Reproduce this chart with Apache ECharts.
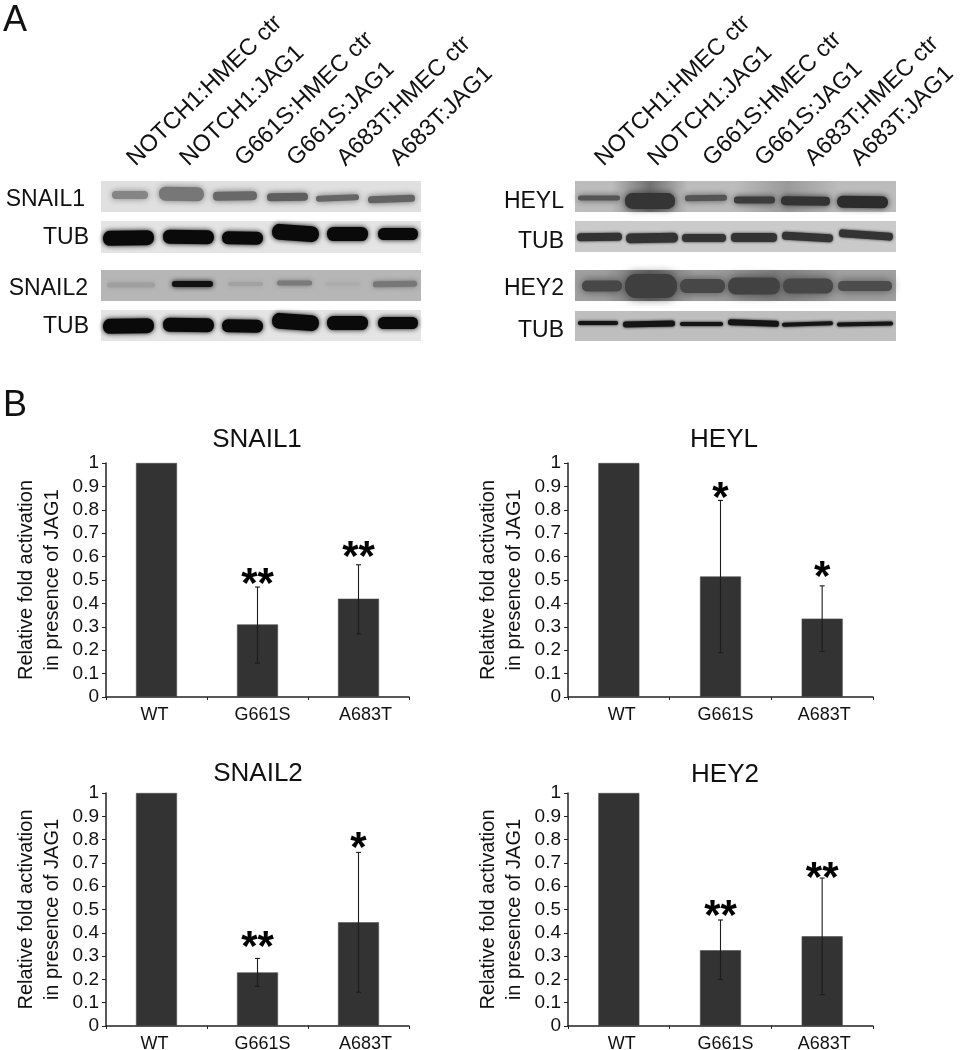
<!DOCTYPE html>
<html><head><meta charset="utf-8">
<style>html,body{margin:0;padding:0;background:#fff}#c{width:961px;height:1050px}#c canvas{filter:blur(0.45px)}</style>
<script src="https://cdn.jsdelivr.net/npm/echarts@6/dist/echarts.min.js"></script>
</head><body><div id="c"></div>
<script>
const FONT = '"Liberation Sans", Arial, sans-serif';
const categories = ['WT', 'G661S', 'A683T'];
const yTicks = [0, 0.1, 0.2, 0.3, 0.4, 0.5, 0.6, 0.7, 0.8, 0.9, 1];
const laneLabels = ['NOTCH1:HMEC ctr', 'NOTCH1:JAG1', 'G661S:HMEC ctr', 'G661S:JAG1', 'A683T:HMEC ctr', 'A683T:JAG1'];

const titles = ['SNAIL1', 'HEYL', 'SNAIL2', 'HEY2'];
const snail1Values = [1, 0.31, 0.42];
const snail1Low = [null, 0.145, 0.27];
const snail1High = [null, 0.47, 0.565];
const snail1Stars = ['', '**', '**'];
const snail1StarAt = [null, 0.516, 0.629];

const heylValues = [1, 0.515, 0.335];
const heylLow = [null, 0.19, 0.195];
const heylHigh = [null, 0.84, 0.475];
const heylStars = ['', '*', '*'];
const heylStarAt = [null, 0.881, 0.544];

const snail2Values = [1, 0.23, 0.445];
const snail2Low = [null, 0.17, 0.145];
const snail2High = [null, 0.29, 0.745];
const snail2Stars = ['', '**', '*'];
const snail2StarAt = [null, 0.37, 0.795];

const hey2Values = [1, 0.325, 0.385];
const hey2Low = [null, 0.2, 0.135];
const hey2High = [null, 0.455, 0.635];
const hey2Stars = ['', '**', '**'];
const hey2StarAt = [null, 0.503, 0.666];

const panelValues = [snail1Values, heylValues, snail2Values, hey2Values];
const panelLow = [snail1Low, heylLow, snail2Low, hey2Low];
const panelHigh = [snail1High, heylHigh, snail2High, hey2High];
const panelStars = [snail1Stars, heylStars, snail2Stars, hey2Stars];
const panelStarAt = [snail1StarAt, heylStarAt, snail2StarAt, hey2StarAt];

// layout of the chart panels: left, right, top, bottom (px), then title anchor x, y
const gridBoxes = [[106, 409, 463, 697, 252, 436], [568, 873, 463, 697, 719, 436], [106, 409, 793, 1026, 253, 770], [568, 873, 793, 1026, 720, 771]];
// category label nudges per column: [left pad, right pad]
const catPadLeftCol = [[0, 4], [10, 0], [14, 0]];
const catPadRightCol = [[6, 0], [10, 0], [4, 0]];

// blot strips: label, label right x, label y, panel x0,x1,y0,y1, background, bands
// a band: x0, x1, centre y, height, grey, tilt (degrees)
const blots = [
 {label:'SNAIL1', lx:85, ly:198, box:[101,421,181,212], bg:'#e0e0e0', blur:3, bands:[
  [112,148,195,8,'#858585',0],[159,204,194,14,'#777777',-1],[213,257,196,9,'#686868',1],[267,308,197,8,'#5e5e5e',1],[316,359,198,6,'#666666',2],[368,415,199,7,'#636363',2]]},
 {label:'TUB', lx:89, ly:236, box:[101,421,221,253], bg:'#e4e4e4', blur:2.5, bands:[
  [103,154,238,15,'#0a0a0a',1],[163,214,237,14,'#0a0a0a',-1],[222,263,238,13,'#0a0a0a',-1],[272,319,233,16,'#0a0a0a',-4],[327,368,234,14,'#0a0a0a',0],[378,418,234,12,'#0a0a0a',0]]},
 {label:'SNAIL2', lx:88, ly:287, box:[101,421,270,301], bg:'#b6b6b6', blur:2.5, bands:[
  [107,155,285,5,'#a0a0a0',0],[172,213,284,6,'#111111',0],[228,263,284,4,'#a2a2a2',0],[277,312,283,5,'#7a7a7a',0],[325,360,284,4,'#adadad',0],[373,417,284,6,'#777777',1]]},
 {label:'TUB', lx:89, ly:325, box:[101,421,310,341], bg:'#e4e4e4', blur:2.5, bands:[
  [103,154,326,15,'#0a0a0a',1],[163,214,325,14,'#0a0a0a',-1],[222,263,326,13,'#0a0a0a',-1],[272,319,322,16,'#0a0a0a',-4],[327,368,323,14,'#0a0a0a',0],[378,418,323,12,'#0a0a0a',0]]},
 {label:'HEYL', lx:564, ly:200, box:[575,896,181,212], bg:'#bcbcbc', blur:3, halos:[[612,688,0.55],[735,840,0.25]], bands:[
  [578,620,198,5,'#555555',0],[625,675,201,16,'#353535',0],[685,727,198,6,'#555555',1],[734,775,200,7,'#3c3c3c',0],[781,830,201,9,'#333333',-1],[837,888,202,12,'#2c2c2c',-1]]},
 {label:'TUB', lx:564, ly:240, box:[575,896,221,252], bg:'#cacaca', blur:1.5, bands:[
  [577,622,237,8,'#333333',1],[626,678,238,10,'#333333',1],[682,726,238,8,'#333333',0],[731,777,237.5,9,'#333333',0],[782,833,237,8,'#333333',-3],[839,893,235,8,'#333333',-4]]},
 {label:'HEY2', lx:564, ly:287, box:[575,896,270,301], bg:'#a0a0a0', blur:5, halos:[[605,695,0.5],[712,840,0.3]], bands:[
  [582,622,286,11,'#474747',0],[625,677,286,24,'#3f3f3f',0],[680,725,286,14,'#474747',0],[728,780,286,17,'#424242',0],[783,833,286,15,'#474747',0],[838,892,286,10,'#4c4c4c',0]]},
 {label:'TUB', lx:564, ly:329, box:[575,896,311,341], bg:'#bebebe', blur:1.5, bands:[
  [578,618,323,4,'#151515',0],[623,675,324,6,'#151515',1],[680,723,324,4,'#151515',0],[728,779,323,6,'#151515',-2],[782,833,324,4,'#151515',2],[837,893,324,4,'#151515',1]]}
];
const laneLabelStartsLeft = [131, 184, 239, 291, 341, 394];
const laneLabelStartsRight = [599, 652, 707, 759, 809, 855];

const graphics = [];
function text(t, x, y, size, align, extra) {
  graphics.push(Object.assign({type:'text', x, y, silent:true,
    style:{text:t, font:size+'px '+FONT, fill:'#111', align:align, verticalAlign:'middle'}}, extra||{}));
}
text('A', 3, 21, 36, 'left');
text('B', 3, 406, 36, 'left');
[laneLabelStartsLeft, laneLabelStartsRight].forEach(starts => starts.forEach((x, i) => {
  text(laneLabels[i], x, 162, 23.5, 'left', {rotation: 44 * Math.PI / 180});
}));
blots.forEach(b => {
  const [x0, x1, y0, y1] = b.box;
  graphics.push({type:'rect', silent:true, shape:{x:x0, y:y0, width:x1-x0, height:y1-y0}, style:{fill:b.bg}});
  (b.halos||[]).forEach(h => {
    graphics.push({type:'rect', silent:true, shape:{x:h[0], y:y0, width:h[1]-h[0], height:y1-y0},
      style:{fill:{type:'linear', x:0, y:0, x2:1, y2:0, colorStops:[
        {offset:0, color:'rgba(50,50,50,0)'},{offset:0.5, color:'rgba(50,50,50,'+h[2]+')'},{offset:1, color:'rgba(50,50,50,0)'}]}}});
  });
  b.bands.forEach(d => {
    const w = d[1]-d[0];
    graphics.push({type:'rect', silent:true, x:(d[0]+d[1])/2, y:d[2], rotation:d[5]*Math.PI/180,
      shape:{x:-w/2, y:-d[3]/2, width:w, height:d[3], r:d[3]/2.2},
      style:{fill:d[4], shadowBlur:b.blur*2, shadowColor:d[4]}});
  });
  text(b.label, b.lx, b.ly + 1.5, 23, 'right');
});

const grid = [], xAxis = [], yAxis = [], series = [], title = [];
gridBoxes.forEach((g, i) => {
  const pads = i % 2 ? catPadRightCol : catPadLeftCol;
  const rich = {};
  pads.forEach((p, k) => { rich['c'+k] = {fontFamily:FONT, fontSize:18, color:'#111', padding:[0, p[1], 0, p[0]]}; });
  grid.push({left:g[0], width:g[1]-g[0], top:g[2], height:g[3]-g[2], outerBoundsMode:'none'});
  title.push({text:titles[i], left:g[4], top:g[5]-14, textAlign:'center',
    textStyle:{fontFamily:FONT, fontSize:26, fontWeight:'normal', color:'#111'}});
  xAxis.push({type:'category', gridIndex:i, data:categories,
    axisLine:{lineStyle:{color:'#222', width:1.5}}, axisTick:{show:true, length:3, lineStyle:{color:'#222'}},
    axisLabel:{interval:0, hideOverlap:false, fontFamily:FONT, fontSize:18, color:'#111', margin:9, rich, formatter:(v, k) => '{c'+k+'|'+v+'}'}});
  yAxis.push({type:'value', gridIndex:i, min:0, max:1, interval:0.1,
    name:'Relative fold activation\nin presence of JAG1', nameLocation:'middle', nameGap:41, nameRotate:90,
    nameTextStyle:{fontFamily:FONT, fontSize:20, color:'#111', lineHeight:26},
    axisLine:{show:true, lineStyle:{color:'#222', width:1.5}}, axisTick:{show:true, length:4, lineStyle:{color:'#222'}},
    splitLine:{show:false},
    axisLabel:{fontFamily:FONT, fontSize:19, color:'#111', margin:7, formatter:v => String(yTicks[Math.round(v*10)])}});
  series.push({type:'bar', xAxisIndex:i, yAxisIndex:i, data:panelValues[i], barWidth:41, silent:true,
    itemStyle:{color:'#333333', borderColor:'#4a4a4a', borderWidth:0.6}, animation:false});
  series.push({type:'custom', xAxisIndex:i, yAxisIndex:i, silent:true, animation:false, z:5,
    data:categories.map((c, k) => [k, panelLow[i][k], panelHigh[i][k]]).filter(d => d[1] !== null),
    encode:{x:0, y:[1,2]},
    renderItem:(p, api) => {
      const lo = api.coord([api.value(0), api.value(1)]), hi = api.coord([api.value(0), api.value(2)]);
      const st = {stroke:'#1c1c1c', lineWidth:1.1};
      return {type:'group', children:[
        {type:'line', shape:{x1:lo[0], y1:lo[1], x2:hi[0], y2:hi[1]}, style:st},
        {type:'line', shape:{x1:lo[0]-2.5, y1:lo[1], x2:lo[0]+2.5, y2:lo[1]}, style:st},
        {type:'line', shape:{x1:hi[0]-2.5, y1:hi[1], x2:hi[0]+2.5, y2:hi[1]}, style:st}]};
    }});
  series.push({type:'custom', xAxisIndex:i, yAxisIndex:i, silent:true, animation:false, z:6,
    data:categories.map((c, k) => [k, panelStarAt[i][k]]).filter(d => d[1] !== null),
    encode:{x:0, y:1},
    renderItem:(p, api) => {
      const k = api.value(0), c = api.coord([k, api.value(1)]);
      return {type:'text', x:c[0], y:c[1]+9,
        style:{text:panelStars[i][k], font:'bold 42px '+FONT, fill:'#000', align:'center', verticalAlign:'middle'}};
    }});
});

const chart = echarts.init(document.getElementById('c'), null, {renderer:'canvas'});
chart.setOption({animation:false, backgroundColor:'#fff', title, grid, xAxis, yAxis, series, graphic:{elements:graphics}});
</script></body></html>
